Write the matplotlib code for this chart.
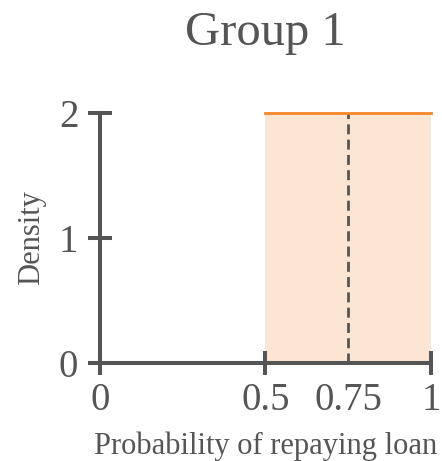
import matplotlib.pyplot as plt

# Uniform density for group 1
x_edges = [0.5, 1.0]
density = [2, 2]
mean_x = 0.75
xticks = [0, 0.5, 0.75, 1]
xticklabels = ['0', '0.5', '0.75', '1']
yticks = [0, 1, 2]

gray = '#555555'
orange = '#F5862A'
fill = '#FDE5D3'

plt.rcParams['font.family'] = ['Liberation Serif', 'DejaVu Serif']

fig = plt.figure(figsize=(4.42, 4.61), dpi=100)
ax = fig.add_axes([0.226, 0.2126, 0.749, 0.5423])

ax.fill_between(x_edges, 0, density, color=fill, linewidth=0, zorder=1)
ax.plot(x_edges, density, color=orange, linewidth=2, clip_on=False, zorder=3)
ax.plot([mean_x, mean_x], [0, density[0]], color=gray, linewidth=2,
        linestyle=(0, (3.6, 1.9)), zorder=2)

ax.set_xlim(0, 1)
ax.set_ylim(0, 2)
ax.set_xticks(xticks)
ax.set_xticklabels(xticklabels)
ax.set_yticks(yticks)

for s in ['top', 'right']:
    ax.spines[s].set_visible(False)
for s in ['left', 'bottom']:
    ax.spines[s].set_color(gray)
    ax.spines[s].set_linewidth(2.9)

ax.tick_params(axis='both', direction='inout', length=17, width=2.9,
               color=gray, labelcolor=gray, labelsize=28)
ax.tick_params(axis='x', pad=5)
ax.tick_params(axis='y', pad=7)
# no tick mark at the mean, only the label
ax.xaxis.get_major_ticks()[2].tick1line.set_visible(False)

ax.set_xlabel('Probability of repaying loan', fontsize=22, color=gray, labelpad=9)
ax.set_ylabel('Density', fontsize=22, color=gray, labelpad=9)
ax.set_title('Group 1', fontsize=35, color=gray, pad=49)

fig.savefig('out.png', dpi=100)
